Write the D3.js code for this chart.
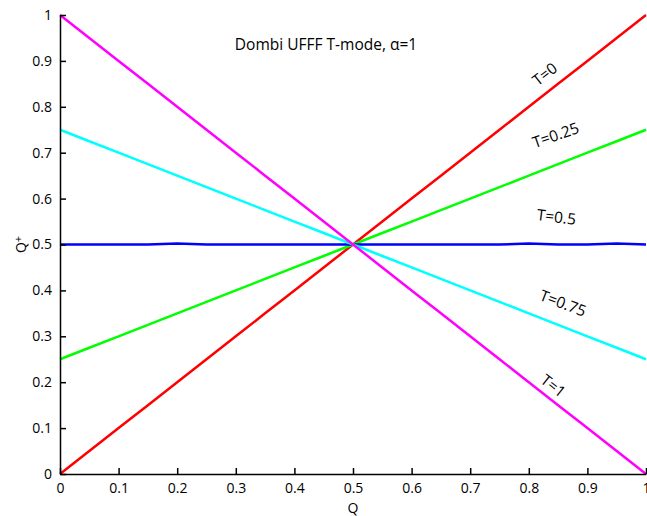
<!DOCTYPE html>
<html>
<head>
<meta charset="utf-8">
<script src="https://cdn.jsdelivr.net/npm/d3@7"></script>
<style>
  body { margin: 0; background: #fff; }
  text { font-family: "Open Sans", "Liberation Sans", sans-serif; }
</style>
</head>
<body>
<div class="canvas"></div>
<script>
// Q values (x)
const qValues = [0, 0.05, 0.1, 0.15, 0.2, 0.25, 0.3, 0.35, 0.4, 0.45, 0.5,
  0.55, 0.6, 0.65, 0.7, 0.75, 0.8, 0.85, 0.9, 0.95, 1];

// Q+ for each T
const t0 = [0, 0.05, 0.1, 0.15, 0.2, 0.25, 0.3, 0.35, 0.4, 0.45, 0.5,
  0.55, 0.6, 0.65, 0.7, 0.75, 0.8, 0.85, 0.9, 0.95, 1];
const t025 = [0.25, 0.275, 0.3, 0.325, 0.35, 0.375, 0.4, 0.425, 0.45, 0.475, 0.5,
  0.525, 0.55, 0.575, 0.6, 0.625, 0.65, 0.675, 0.7, 0.725, 0.75];
const t05 = [0.5, 0.5, 0.5, 0.5, 0.502, 0.5, 0.5, 0.5, 0.5, 0.5, 0.5,
  0.5, 0.5, 0.5, 0.5, 0.5, 0.502, 0.5, 0.5, 0.502, 0.5];
const t075 = [0.75, 0.725, 0.7, 0.675, 0.65, 0.625, 0.6, 0.575, 0.55, 0.525, 0.5,
  0.475, 0.45, 0.425, 0.4, 0.375, 0.35, 0.325, 0.3, 0.275, 0.25];
const t1 = [1, 0.95, 0.9, 0.85, 0.8, 0.75, 0.7, 0.65, 0.6, 0.55, 0.5,
  0.45, 0.4, 0.35, 0.3, 0.25, 0.2, 0.15, 0.1, 0.05, 0];

const seriesNames = ["T=0", "T=0.25", "T=0.5", "T=0.75", "T=1"];
const seriesColors = ["#ff0000", "#00ff00", "#0000ff", "#00ffff", "#ff00ff"];
const seriesData = [t0, t025, t05, t075, t1];

const tickValues = [0, 0.1, 0.2, 0.3, 0.4, 0.5, 0.6, 0.7, 0.8, 0.9, 1];

// label placement (x in data units, angle in degrees)
const labelX = [0.833, 0.849, 0.846, 0.855, 0.836];
const labelY = [0.862, 0.727, 0.548, 0.361, 0.183];
const labelAngle = [-38, -19, 7, 21, 38];

const dims = { width: 647, height: 516 };
const margin = { left: 60, right: 1, top: 15, bottom: 42 };

const svg = d3.select(".canvas")
  .append("svg")
  .attr("width", dims.width)
  .attr("height", dims.height);

const x = d3.scaleLinear().domain([0, 1]).range([margin.left, dims.width - margin.right]);
const y = d3.scaleLinear().domain([0, 1]).range([dims.height - margin.bottom, margin.top]);

// lines
const line = d3.line()
  .x((d, i) => x(qValues[i]))
  .y(d => y(d));

svg.append("g")
  .selectAll("path")
  .data(seriesData)
  .enter()
  .append("path")
  .attr("d", line)
  .attr("fill", "none")
  .attr("stroke", (d, i) => seriesColors[i])
  .attr("stroke-width", 2.5)
  .attr("stroke-linejoin", "round");

// axes (ticks point inward)
const xAxis = svg.append("g")
  .attr("transform", `translate(0,${y(0)})`)
  .call(d3.axisBottom(x).tickValues(tickValues).tickFormat(d3.format("")).tickSizeInner(-6).tickSizeOuter(0));
xAxis.selectAll("text").attr("y", 9).attr("dy", "0.71em").style("font-size", "14px");

const yAxis = svg.append("g")
  .attr("transform", `translate(${x(0)},0)`)
  .call(d3.axisLeft(y).tickValues(tickValues).tickFormat(d3.format("")).tickSizeInner(-6).tickSizeOuter(0));
yAxis.selectAll("text").attr("x", -8).style("font-size", "14px");

svg.selectAll(".domain, .tick line").attr("stroke", "#000").attr("stroke-width", 1.5);

// axis titles
svg.append("text")
  .attr("x", x(0.5))
  .attr("y", 513)
  .attr("text-anchor", "middle")
  .style("font-size", "14px")
  .text("Q");

const yTitle = svg.append("text")
  .attr("transform", `translate(26,${y(0.5)}) rotate(-90)`)
  .attr("text-anchor", "middle")
  .style("font-size", "14px");
yTitle.append("tspan").text("Q");
yTitle.append("tspan").attr("dy", "-0.4em").style("font-size", "11px").text("+");

// chart title
svg.append("text")
  .attr("x", 326)
  .attr("y", 50)
  .attr("text-anchor", "middle")
  .style("font-size", "15.5px")
  .text("Dombi UFFF T-mode, α=1");

// series labels
svg.append("g")
  .selectAll("text")
  .data(seriesNames)
  .enter()
  .append("text")
  .attr("transform", (d, i) => `translate(${x(labelX[i])},${y(labelY[i])}) rotate(${labelAngle[i]})`)
  .attr("text-anchor", "middle")
  .style("font-size", "15.5px")
  .text(d => d);
</script>
</body>
</html>
